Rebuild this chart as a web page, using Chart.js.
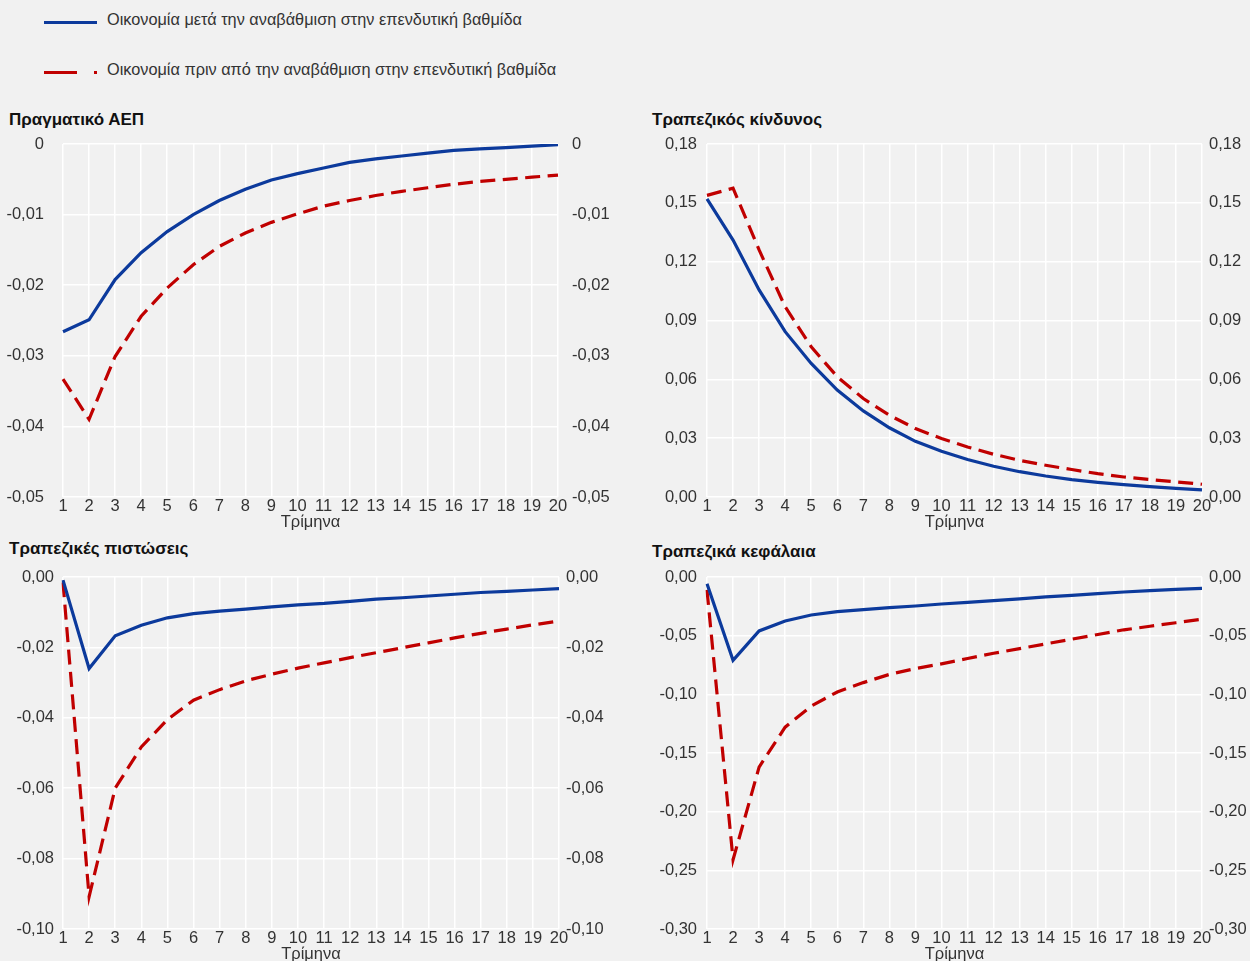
<!DOCTYPE html>
<html lang="el">
<head>
<meta charset="utf-8">
<script src="https://cdn.jsdelivr.net/npm/chart.js@4.4.1/dist/chart.umd.min.js"></script>
<style>
  html, body { margin: 0; padding: 0; background: #f1f1f1; overflow: hidden; }
  body { width: 1250px; height: 961px; position: relative; font-family: "Liberation Sans", Arial, sans-serif; color: #333; }
  .legend-text { position: absolute; left: 107px; font-size: 16.3px; line-height: 18px; white-space: nowrap; }
  .swatch { position: absolute; height: 3px; }
  .panel-title { position: absolute; font-weight: bold; font-size: 17px; line-height: 18px; color: #111; white-space: nowrap; }
  canvas { position: absolute; }
</style>
</head>
<body>

<!-- legend -->
<div class="swatch" style="left:44px;top:21px;width:53px;background:#0c3a9c"></div>
<div class="legend-text" style="top:10px">Οικονομία μετά την αναβάθμιση στην επενδυτική βαθμίδα</div>
<div class="swatch" style="left:44px;top:71px;width:33px;background:#c00000"></div>
<div class="swatch" style="left:94px;top:71px;width:3px;background:#c00000"></div>
<div class="legend-text" style="top:60px">Οικονομία πριν από την αναβάθμιση στην επενδυτική βαθμίδα</div>

<div class="panel-title" style="left:9px;top:111px">Πραγματικό ΑΕΠ</div>
<div class="panel-title" style="left:652px;top:111px">Τραπεζικός κίνδυνος</div>
<div class="panel-title" style="left:9px;top:540px">Τραπεζικές πιστώσεις</div>
<div class="panel-title" style="left:652px;top:543px">Τραπεζικά κεφάλαια</div>

<canvas id="gdp" width="620" height="405" style="left:0;top:132px"></canvas>
<canvas id="risk" width="610" height="405" style="left:640px;top:132px"></canvas>
<canvas id="credit" width="620" height="404" style="left:0;top:565px"></canvas>
<canvas id="capital" width="610" height="404" style="left:640px;top:565px"></canvas>

<script>
const quarters = ["1", "2", "3", "4", "5", "6", "7", "8", "9", "10",
  "11", "12", "13", "14", "15", "16", "17", "18", "19", "20"];

const labelAfter = "Οικονομία μετά την αναβάθμιση στην επενδυτική βαθμίδα";
const labelBefore = "Οικονομία πριν από την αναβάθμιση στην επενδυτική βαθμίδα";

// Πραγματικό ΑΕΠ
const gdpAfter = [-0.0266, -0.0249, -0.0192, -0.0154, -0.0124, -0.0100, -0.0080, -0.0064, -0.0051, -0.0042,
  -0.0034, -0.0026, -0.0021, -0.0017, -0.0013, -0.0009, -0.0007, -0.0005, -0.0003, -0.0001];
const gdpBefore = [-0.0333, -0.0390, -0.0301, -0.0244, -0.0204, -0.0171, -0.0145, -0.0126, -0.0111, -0.0099,
  -0.0088, -0.0080, -0.0073, -0.0067, -0.0062, -0.0057, -0.0053, -0.0050, -0.0047, -0.0044];
const gdpTicks = [-0.05, -0.04, -0.03, -0.02, -0.01, 0];

// Τραπεζικός κίνδυνος
const riskAfter = [0.1520, 0.1310, 0.1056, 0.0843, 0.0681, 0.0545, 0.0439, 0.0353, 0.0284, 0.0233,
  0.0191, 0.0157, 0.0129, 0.0107, 0.0089, 0.0075, 0.0063, 0.0053, 0.0044, 0.0036];
const riskBefore = [0.1538, 0.1575, 0.1260, 0.0970, 0.0766, 0.0613, 0.0502, 0.0417, 0.0349, 0.0298,
  0.0255, 0.0218, 0.0187, 0.0162, 0.0140, 0.0119, 0.0102, 0.0089, 0.0077, 0.0065];
const riskTicks = [0, 0.03, 0.06, 0.09, 0.12, 0.15, 0.18];

// Τραπεζικές πιστώσεις
const creditAfter = [-0.0009, -0.0260, -0.0167, -0.0137, -0.0116, -0.0104, -0.0097, -0.0091, -0.0085, -0.0079,
  -0.0075, -0.0069, -0.0063, -0.0059, -0.0054, -0.0049, -0.0044, -0.0041, -0.0037, -0.0033];
const creditBefore = [-0.0015, -0.0908, -0.0600, -0.0483, -0.0405, -0.0350, -0.0320, -0.0295, -0.0276, -0.0259,
  -0.0244, -0.0229, -0.0215, -0.0201, -0.0187, -0.0173, -0.0160, -0.0148, -0.0136, -0.0125];
const creditTicks = [-0.10, -0.08, -0.06, -0.04, -0.02, 0];

// Τραπεζικά κεφάλαια
const capitalAfter = [-0.0057, -0.0710, -0.0460, -0.0375, -0.0324, -0.0295, -0.0278, -0.0261, -0.0247, -0.0230,
  -0.0216, -0.0202, -0.0187, -0.0170, -0.0156, -0.0142, -0.0128, -0.0116, -0.0105, -0.0097];
const capitalBefore = [-0.011, -0.241, -0.162, -0.128, -0.110, -0.098, -0.090, -0.083, -0.078, -0.074,
  -0.0695, -0.065, -0.061, -0.057, -0.053, -0.049, -0.045, -0.042, -0.039, -0.036];
const capitalTicks = [-0.30, -0.25, -0.20, -0.15, -0.10, -0.05, 0];

const BLUE = "#0c3a9c";
const RED = "#c00000";
const TEXT = "#333333";
const tickFont = { family: "'Liberation Sans', Arial, sans-serif", size: 16.5 };

// "0" on the GDP panel, two decimals with a comma everywhere else
function fmtShort(v) {
  return Math.abs(v) < 1e-9 ? "0" : v.toFixed(2).replace(".", ",");
}
function fmtFixed(v) {
  return Math.abs(v) < 1e-9 ? "0,00" : v.toFixed(2).replace(".", ",");
}

function yAxis(position, ticks, fmt, width, pad, showGrid) {
  return {
    position: position,
    min: Math.min(...ticks),
    max: Math.max(...ticks),
    afterBuildTicks: (axis) => { axis.ticks = ticks.map(v => ({ value: v })); },
    afterFit: (axis) => {
      // fixed gutter; labels may hang over the plot edges
      axis.width = width;
      axis.paddingTop = 0;
      axis.paddingBottom = 0;
    },
    border: { display: false },
    grid: { display: showGrid, color: "#ffffff", lineWidth: 1.5, drawTicks: false },
    ticks: { color: TEXT, font: tickFont, padding: pad, callback: (v) => fmt(v) }
  };
}

function makePanel(id, after, before, ticks, fmt, box) {
  const ctx = document.getElementById(id).getContext("2d");
  return new Chart(ctx, {
    type: "line",
    data: {
      labels: quarters,
      datasets: [
        { label: labelAfter, data: after, borderColor: BLUE, borderWidth: 3.2, pointRadius: 0, tension: 0, yAxisID: "y" },
        { label: labelBefore, data: before, borderColor: RED, borderWidth: 3.2, borderDash: [15, 7.5], pointRadius: 0, tension: 0, yAxisID: "y" }
      ]
    },
    options: {
      responsive: false,
      animation: false,
      layout: { padding: { top: 12, bottom: 0, left: 0, right: 0 } },
      plugins: { legend: { display: false }, tooltip: { enabled: false } },
      scales: {
        x: {
          offset: false,
          afterFit: (axis) => { axis.height = 40; },
          border: { display: false },
          grid: { color: "#ffffff", lineWidth: 1.5, drawTicks: false },
          ticks: { color: TEXT, font: tickFont, padding: 0, maxRotation: 0, autoSkip: false },
          title: { display: true, text: "Τρίμηνα", color: TEXT, font: tickFont, padding: { top: 0, bottom: 5 } }
        },
        y: yAxis("left", ticks, fmt, box.leftW, box.padL, true),
        y2: yAxis("right", ticks, fmt, box.rightW, box.padR, false)
      }
    }
  });
}

makePanel("gdp", gdpAfter, gdpBefore, gdpTicks, fmtShort, { leftW: 63, rightW: 62, padL: 19, padR: 14 });
makePanel("risk", riskAfter, riskBefore, riskTicks, fmtFixed, { leftW: 67, rightW: 48, padL: 10, padR: 7 });
makePanel("credit", creditAfter, creditBefore, creditTicks, fmtFixed, { leftW: 63, rightW: 61, padL: 9, padR: 7 });
makePanel("capital", capitalAfter, capitalBefore, capitalTicks, fmtFixed, { leftW: 67, rightW: 48, padL: 10, padR: 7 });
</script>
</body>
</html>
